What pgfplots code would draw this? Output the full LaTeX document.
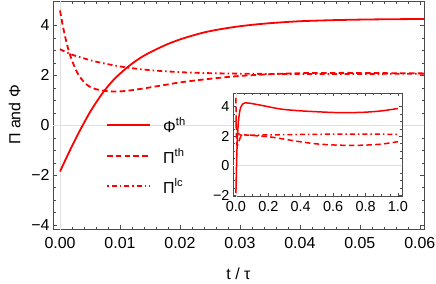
\documentclass[border=0pt]{standalone}
\usepackage{pgfplots}
\pgfplotsset{compat=1.18}
\usepackage{fontspec}
\setmainfont{Liberation Sans}
\definecolor{frm}{gray}{0.3}
\definecolor{mred}{rgb}{1,0,0}
\definecolor{gl}{gray}{0.88}

\pgfplotstableread{
t v
0 -1.85
0.001 -1.33
0.002 -0.83
0.003 -0.35
0.004 0.10
0.005 0.53
0.006 0.91
0.007 1.26
0.008 1.57
0.009 1.84
0.010 2.07
0.011 2.28
0.012 2.47
0.013 2.64
0.014 2.79
0.015 2.92
0.016 3.04
0.018 3.26
0.020 3.44
0.022 3.59
0.024 3.72
0.026 3.82
0.028 3.90
0.030 3.97
0.033 4.05
0.036 4.11
0.040 4.17
0.045 4.21
0.050 4.235
0.055 4.25
0.061 4.26
}\tabphith

\pgfplotstableread{
t v
0 4.6
0.0005 3.95
0.001 3.40
0.0015 2.95
0.002 2.60
0.0025 2.30
0.003 2.06
0.0035 1.88
0.004 1.74
0.0045 1.62
0.005 1.54
0.006 1.45
0.007 1.40
0.008 1.37
0.009 1.355
0.010 1.36
0.011 1.38
0.012 1.41
0.014 1.48
0.016 1.56
0.018 1.64
0.020 1.72
0.023 1.81
0.026 1.89
0.029 1.96
0.032 2.01
0.036 2.06
0.040 2.09
0.045 2.10
0.050 2.10
0.055 2.09
0.061 2.08
}\tabpith

\pgfplotstableread{
t v
0 3.05
0.001 2.93
0.002 2.83
0.004 2.68
0.006 2.55
0.008 2.45
0.010 2.36
0.012 2.29
0.015 2.21
0.018 2.16
0.021 2.12
0.025 2.09
0.030 2.07
0.035 2.06
0.040 2.06
0.050 2.06
0.061 2.07
}\tabpilc

\pgfplotstableread{
t v
0 -1.85
0.002 -0.83
0.004 0.10
0.006 0.91
0.008 1.57
0.010 2.07
0.014 2.79
0.018 3.26
0.024 3.72
0.030 3.97
0.040 4.17
0.056 4.26
0.075 4.25
0.10 4.21
0.15 4.11
0.20 4.00
0.25 3.89
0.30 3.81
0.40 3.72
0.50 3.66
0.60 3.61
0.70 3.60
0.80 3.63
0.90 3.72
1.00 3.88
}\tabphithins

\pgfplotstableread{
t v
0 4.6
0.001 3.40
0.002 2.60
0.003 2.06
0.005 1.54
0.009 1.355
0.016 1.56
0.026 1.89
0.040 2.09
0.055 2.09
0.10 2.05
0.20 1.97
0.30 1.80
0.40 1.62
0.50 1.48
0.60 1.41
0.70 1.38
0.80 1.40
0.90 1.47
1.00 1.63
}\tabpithins

\pgfplotstableread{
t v
0 3.05
0.002 2.83
0.006 2.55
0.012 2.29
0.020 2.13
0.035 2.06
0.06 2.06
0.10 2.07
0.20 2.09
0.40 2.12
0.60 2.14
0.80 2.14
1.00 2.13
}\tabpilcins

\begin{document}
\begin{tikzpicture}
\begin{axis}[
  at={(0,0)}, anchor=south west, scale only axis,
  width=371bp, height=228bp,
  xmin=-0.00117, xmax=0.0607, ymin=-4.15, ymax=4.98,
  xtick={0,0.01,0.02,0.03,0.04,0.05,0.06},
  xticklabels={0.00,0.01,0.02,0.03,0.04,0.05,0.06},
  ytick={-4,-2,0,2,4}, yticklabels={−4,−2,0,2,4},
  scaled x ticks=false, scaled y ticks=false,
  minor x tick num=4, minor y tick num=3,
  tick align=inside, major tick length=4bp, minor tick length=2.5bp,
  axis line style={frm, line width=0.6bp},
  every tick/.style={frm, line width=0.6bp},
  tick label style={font=\fontsize{16}{18}\selectfont, black},
  xticklabel style={yshift=-5bp},
  label style={font=\fontsize{16}{18}\selectfont},
  xlabel={t / τ}, ylabel={Π and Φ},
  xlabel shift=12bp, ylabel shift=4bp,
]
\addplot[gl, line width=0.6bp] coordinates {(-0.01,0) (0.07,0)};
\addplot[gl, line width=0.6bp] coordinates {(0,-5) (0,6)};
\addplot[mred, line width=1.8bp, smooth] table[x=t,y=v] {\tabphith};
\addplot[mred, line width=1.8bp, smooth, dash pattern=on 5.5bp off 3.3bp] table[x=t,y=v] {\tabpith};
\addplot[mred, line width=1.8bp, smooth, dash pattern=on 5bp off 3bp on 1.5bp off 3bp] table[x=t,y=v] {\tabpilc};
% legend
\draw[mred, line width=1.8bp] (axis description cs:0.1456,0.456) -- ++(43bp,0bp);
\node[anchor=west, inner sep=0pt, font=\fontsize{16}{18}\selectfont] at (axis description cs:0.2965,0.456) {Φ\textsuperscript{th}};
\draw[mred, line width=1.8bp, dash pattern=on 5.5bp off 3.3bp] (axis description cs:0.1456,0.320) -- ++(43bp,0bp);
\node[anchor=west, inner sep=0pt, font=\fontsize{16}{18}\selectfont] at (axis description cs:0.2965,0.320) {Π\textsuperscript{th}};
\draw[mred, line width=1.8bp, dash pattern=on 1.5bp off 3bp on 5bp off 3bp] (axis description cs:0.1456,0.1886) -- ++(43bp,0bp);
\node[anchor=west, inner sep=0pt, font=\fontsize{16}{18}\selectfont] at (axis description cs:0.2965,0.1886) {Π\textsuperscript{lc}};
\end{axis}

\begin{axis}[
  at={(180bp,33bp)}, anchor=south west, scale only axis,
  width=169bp, height=103bp,
  xmin=-0.018, xmax=1.025, ymin=-2.05, ymax=4.93,
  xtick={0,0.2,0.4,0.6,0.8,1.0},
  xticklabels={0.0,0.2,0.4,0.6,0.8,1.0},
  ytick={-2,0,2,4}, yticklabels={−2,0,2,4},
  scaled x ticks=false,
  minor x tick num=3, minor y tick num=3,
  tick align=inside, major tick length=3.5bp, minor tick length=2bp,
  axis line style={frm, line width=0.6bp},
  every tick/.style={frm, line width=0.6bp},
  tick label style={font=\fontsize{14.5}{16}\selectfont, black},
  xticklabel style={yshift=-2bp},
]
\addplot[gl, line width=0.6bp] coordinates {(-0.1,0) (1.1,0)};
\addplot[gl, line width=0.6bp] coordinates {(0,-3) (0,6)};
\addplot[mred, line width=1.5bp, smooth] table[x=t,y=v] {\tabphithins};
\addplot[mred, line width=1.5bp, smooth, dash pattern=on 5.5bp off 3.3bp] table[x=t,y=v] {\tabpithins};
\addplot[mred, line width=1.5bp, smooth, dash pattern=on 5bp off 3bp on 1.5bp off 3bp] table[x=t,y=v] {\tabpilcins};
\end{axis}
\pgfresetboundingbox
\useasboundingbox (-53bp,-55bp) rectangle (383bp,229bp);
\end{tikzpicture}
\end{document}
